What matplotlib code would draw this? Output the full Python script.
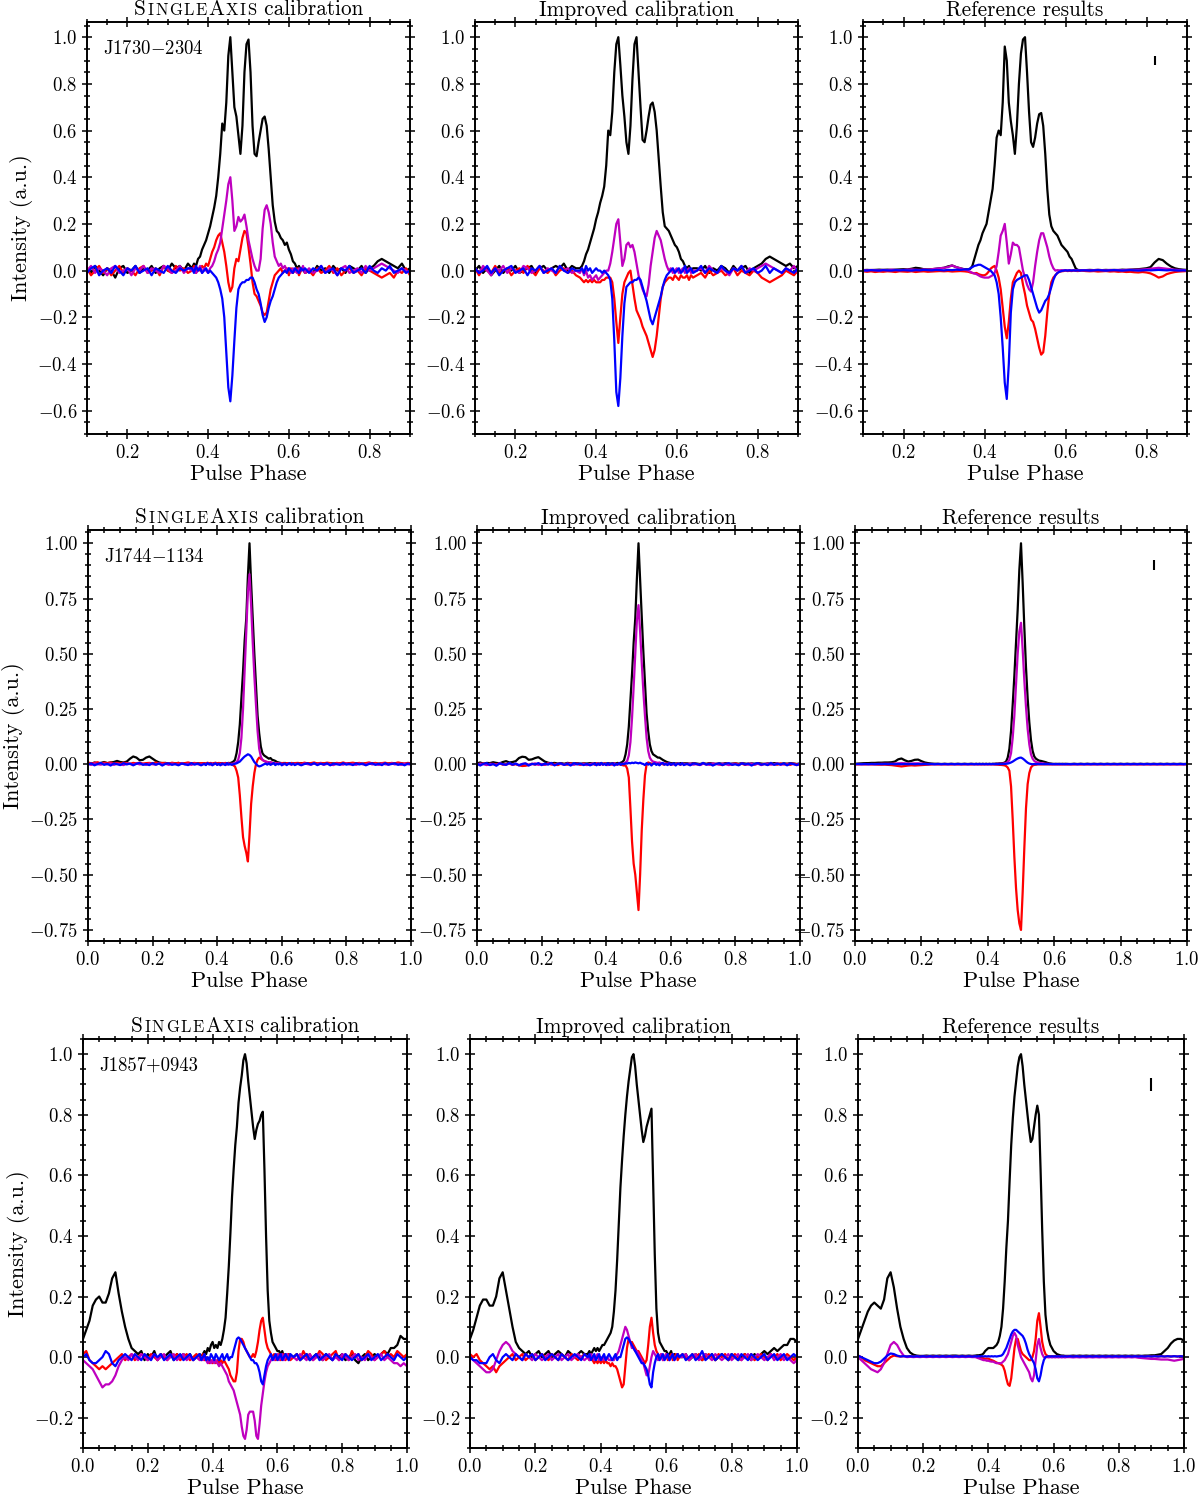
import numpy as np
import matplotlib.pyplot as plt
from matplotlib.ticker import MultipleLocator
from matplotlib.offsetbox import TextArea, HPacker, AnchoredOffsetbox

plt.rcParams['font.family'] = 'serif'
plt.rcParams['font.serif'] = ['cmr10']
plt.rcParams['mathtext.fontset'] = 'cm'
plt.rcParams['axes.formatter.use_mathtext'] = True

# pulse phase grids (coarse off-pulse, finer across the pulse)
phase_j1730 = np.round(np.concatenate([np.arange(0.10, 0.355, 0.01),
                                       np.arange(0.36, 0.6425, 0.005),
                                       np.arange(0.65, 0.905, 0.01)]), 3)
phase_full = np.round(np.concatenate([np.arange(0.0, 0.355, 0.01),
                                      np.arange(0.36, 0.6425, 0.005),
                                      np.arange(0.65, 1.005, 0.01)]), 3)

pulsars = ['J1730$-$2304', 'J1744$-$1134', 'J1857+0943']
titles = ['SingleAxis calibration', 'Improved calibration', 'Reference results']

# ---------------- J1730-2304 ----------------
j1730_sa_I = [
    .01, -.01, .02, .00, -.02, .01, .00, -.03, .01, .02,
    -.01, .00, .02, -.01, .01, .00, .02, -.01, .01, .02,
    .00, .03, .01, .02, .00, .03,
    .01, .03, .02, .05, .06, .09, .11, .13, .16, .19,
    .23, .27, .32, .40, .50, .63, .60, .72, .92, 1.0,
    .85, .70, .66, .58, .50, .62, .85, .97, .99, .85,
    .62, .50, .49, .55, .60, .65, .66, .62, .52, .40,
    .28, .21, .17, .16, .14, .13, .11, .12, .09, .07,
    .04, .03, .01, .02, .00, .01, -.01,
    .00, -.01, .02, .00, .01, -.01, .02, .00, .01, -.01,
    .02, .01, .00, .02, -.01, .01, .02, .04, .05, .04,
    .03, .02, .01, .03, .00, .01,
]
j1730_sa_Q = [
    .01, -.02, .00, .02, -.01, .01, -.02, .00, .02, -.01,
    .01, .00, -.02, .01, .02, -.01, .00, .01, -.02, .02,
    .00, -.01, .02, .00, .01, -.01,
    .00, .02, -.01, .01, .00, .02, .01, .03, .02, .05,
    .08, .10, .13, .15, .16, .12, .08, .02, -.05, -.09,
    -.07, .01, .05, .04, .09, .14, .17, .16, .10, .03,
    -.05, -.10, -.11, -.13, -.15, -.18, -.19, -.18, -.13, -.08,
    -.05, -.02, -.01, .00, .01, -.01, .00, .01, -.02, .01,
    -.01, .00, .01, -.02, .00, .01, -.01,
    .00, -.02, .01, -.01, .00, .02, -.01, .01, -.02, .00,
    .01, -.01, .00, -.02, .01, .00, -.01, -.02, -.03, -.02,
    -.01, -.03, .00, -.01, .01, -.02,
]
j1730_sa_U = [
    .00, .02, -.01, .01, .00, -.02, .01, .02, -.01, .00,
    .01, -.02, .01, .00, .02, -.01, .01, .00, -.01, .02,
    .01, -.01, .00, .02, -.01, .01,
    .00, .01, -.01, .00, .02, -.01, .01, .00, -.01, .01,
    .02, .04, .07, .09, .12, .18, .24, .30, .37, .40,
    .30, .17, .19, .23, .21, .22, .24, .19, .13, .09,
    .05, .02, .00, .00, .05, .18, .26, .28, .25, .20,
    .12, .06, .04, .02, .03, .01, .02, .00, .01, -.01,
    .01, .00, -.01, .01, .00, .02, -.01,
    .01, -.01, .00, .02, -.01, .01, .00, -.02, .01, .02,
    -.01, .00, .01, -.01, .02, .00, .01, .02, .03, .02,
    .01, .00, -.01, .01, .00, -.01,
]
j1730_sa_V = [
    -.01, .01, .02, -.02, .00, .01, -.01, .02, .00, -.02,
    .01, .00, .02, -.01, .00, .01, -.02, .01, .00, -.01,
    .02, .00, -.01, .01, .00, .01,
    .01, -.01, .02, .00, .01, -.01, .00, .01, -.01, .00,
    -.01, -.02, -.03, -.05, -.08, -.12, -.20, -.35, -.50, -.56,
    -.45, -.30, -.16, -.08, -.06, -.05, -.05, -.04, -.04, -.03,
    -.03, -.05, -.08, -.10, -.14, -.19, -.22, -.20, -.16, -.13,
    -.11, -.08, -.05, -.03, -.02, -.01, .00, -.01, .01, .00,
    -.01, .01, .00, -.01, .01, .00, .01,
    -.01, .01, .00, .02, -.01, .00, .01, -.02, .01, .00,
    .02, -.01, .00, .01, -.01, .02, .00, -.01, .01, .00,
    .02, -.01, .00, .01, -.01, .00,
]
j1730_ic_I = [
    .00, .02, -.01, .01, -.02, .00, .02, -.01, .01, .00,
    .02, -.01, .00, .01, .02, -.01, .01, .02, .00, .01,
    .02, .01, .03, .00, .02, .01,
    .01, .02, .04, .07, .09, .12, .15, .18, .22, .25,
    .29, .32, .36, .45, .60, .58, .68, .85, .97, 1.0,
    .88, .75, .66, .55, .50, .62, .82, .97, 1.0, .85,
    .70, .56, .55, .60, .66, .71, .72, .68, .60, .48,
    .36, .25, .19, .18, .17, .15, .13, .11, .10, .08,
    .05, .04, .02, .01, .02, .00, .01,
    .01, .00, .02, -.01, .01, .00, .02, .01, -.01, .02,
    .00, .01, .02, -.01, .01, .02, .03, .05, .06, .05,
    .04, .03, .02, .03, .01, .02,
]
j1730_ic_Q = [
    .01, -.02, .01, .00, -.01, .02, -.01, .00, .01, -.02,
    .00, .01, -.01, .02, .00, -.02, .01, .00, -.01, .01,
    -.02, .00, .01, -.01, .00, -.02,
    -.03, -.04, -.05, -.04, -.05, -.04, -.05, -.04, -.05, -.05,
    -.05, -.04, -.04, -.03, -.03, -.03, -.05, -.12, -.22, -.31,
    -.20, -.10, -.05, -.03, -.01, .00, -.06, -.12, -.17, -.19,
    -.21, -.24, -.26, -.28, -.31, -.34, -.37, -.34, -.28, -.20,
    -.12, -.07, -.05, -.04, -.03, -.03, -.04, -.02, -.03, -.04,
    -.02, -.03, -.03, -.02, -.04, -.02, -.03,
    -.02, -.01, -.03, .00, -.02, -.01, .00, -.02, -.01, .01,
    -.02, .00, -.01, -.02, .00, -.01, -.03, -.04, -.05, -.04,
    -.03, -.02, .00, -.01, -.02, .00,
]
j1730_ic_U = [
    .01, -.01, .02, .00, -.02, .01, .00, .02, -.01, .01,
    .00, -.01, .02, .01, -.01, .00, .02, -.01, .01, .00,
    -.01, .02, .00, .01, -.01, .00,
    -.01, .01, -.02, .00, -.03, -.02, -.04, -.03, -.02, -.04,
    -.03, -.02, -.01, .00, .00, .03, .08, .14, .20, .22,
    .12, .02, .05, .11, .12, .10, .11, .08, .03, -.02,
    -.05, -.08, -.10, -.11, -.06, .02, .08, .14, .17, .15,
    .13, .09, .05, .02, .00, .01, -.01, .00, .01, -.01,
    .00, .01, -.01, .00, .01, -.01, .00,
    .00, .01, -.01, .02, .00, -.01, .01, .00, -.02, .01,
    .00, .02, -.01, .01, .00, .01, .02, .03, .02, .01,
    .00, -.01, .01, .00, .02, -.01,
]
j1730_ic_V = [
    .01, -.01, .00, .02, -.01, .01, -.02, .00, .01, .02,
    -.01, .00, .01, -.02, .01, .00, .02, -.01, .00, .01,
    -.01, .02, .00, -.01, .01, .00,
    .00, .01, -.01, .02, .00, .01, -.01, .00, .01, .00,
    .00, -.01, .00, -.01, -.02, -.04, -.12, -.30, -.52, -.58,
    -.46, -.28, -.14, -.07, -.06, -.05, -.05, -.04, -.04, -.03,
    -.04, -.07, -.10, -.13, -.17, -.21, -.23, -.20, -.17, -.14,
    -.11, -.07, -.04, -.02, -.01, .00, .01, -.01, .00, .01,
    -.01, .00, .02, -.01, .00, .01, -.01,
    .00, .02, -.01, .01, .00, -.01, .02, .00, -.01, .01,
    .00, .02, -.01, .00, .01, -.01, .00, .02, -.01, .01,
    .00, -.01, .01, .00, -.01, .01,
]
j1730_ref_I = [
    .002, .003, .002, .003, .004, .003, .004, .003, .004, .005,
    .006, .005, .008, .012, .010, .006, .005, .006, .008, .010,
    .012, .018, .022, .015, .010, .006,
    .005, .008, .02, .05, .08, .11, .13, .16, .18, .20,
    .25, .30, .35, .45, .57, .60, .58, .72, .96, .90,
    .72, .64, .58, .50, .62, .80, .93, .99, 1.0, .85,
    .68, .55, .53, .57, .63, .67, .675, .62, .50, .35,
    .24, .19, .17, .16, .15, .13, .11, .10, .09, .08,
    .06, .05, .03, .01, .003, .002, .002,
    .002, .003, .002, .003, .002, .003, .002, .003, .002, .004,
    .003, .004, .005, .006, .008, .010, .015, .035, .050, .045,
    .030, .018, .010, .006, .004, .003,
]
j1730_ref_Q = [
    -.003, -.005, -.003, -.006, -.004, -.005, -.003, -.004, -.006, -.003,
    -.004, -.005, -.003, -.006, -.004, -.003, -.005, -.004, -.003, -.002,
    -.003, -.002, -.004, -.003, -.002, -.003,
    -.005, -.008, -.010, -.012, -.010, -.015, -.018, -.020, -.020, -.015,
    -.005, .008, .015, .020, .000, -.03, -.08, -.16, -.24, -.29,
    -.22, -.12, -.05, -.03, -.01, .00, -.01, -.06, -.10, -.15,
    -.18, -.21, -.22, -.25, -.29, -.33, -.36, -.35, -.28, -.18,
    -.10, -.05, -.03, -.02, -.01, -.005, -.003, -.002, .000, -.002,
    -.001, -.002, .000, -.001, -.002, -.001, .000,
    -.002, -.003, -.002, -.004, -.003, -.002, -.004, -.003, -.005, -.004,
    -.006, -.005, -.007, -.008, -.006, -.008, -.012, -.020, -.030, -.025,
    -.015, -.010, -.006, -.004, -.003, -.002,
]
j1730_ref_U = [
    .002, .001, .003, .002, .001, .003, .002, .004, .003, .002,
    .003, .004, .005, .004, .003, .005, .004, .006, .008, .010,
    .012, .015, .022, .015, .010, .005,
    .000, -.005, -.010, -.012, -.015, -.020, -.025, -.028, -.030, -.030,
    -.030, -.025, -.020, -.010, .02, .08, .15, .17, .20, .12,
    .03, .07, .12, .11, .11, .10, .05, .00, -.03, -.06,
    -.08, -.09, -.05, .02, .08, .13, .16, .16, .13, .10,
    .06, .03, .01, .000, .002, .001, .002, .001, .002, .001,
    .002, .001, .002, .001, .002, .001, .002,
    .002, .001, .002, .003, .002, .001, .003, .002, .003, .002,
    .003, .004, .003, .004, .005, .006, .008, .010, .012, .010,
    .008, .006, .004, .003, .002, .002,
]
j1730_ref_V = [
    .001, .000, .002, .001, .000, .002, .001, .000, .002, .001,
    .002, .001, .000, .002, .001, .003, .002, .001, .003, .002,
    .001, .003, .002, .004, .003, .005,
    .005, .010, .015, .020, .022, .025, .025, .020, .015, .010,
    .005, .000, -.010, -.020, -.05, -.10, -.20, -.33, -.48, -.55,
    -.40, -.18, -.08, -.05, -.04, -.035, -.03, -.025, -.02, -.02,
    -.04, -.07, -.10, -.13, -.16, -.18, -.17, -.15, -.13, -.12,
    -.10, -.07, -.04, -.02, -.01, -.005, -.002, .000, .001, .000,
    .001, .000, .001, .000, .001, .000, .001,
    .001, .000, .001, .002, .001, .000, .001, .002, .001, .000,
    .001, .002, .001, .000, .001, .002, .001, .002, .003, .002,
    .001, .002, .001, .000, .001, .000,
]

# ---------------- J1744-1134 ----------------
j1744_sa_I = [
    .005, .000, .008, .004, .006, .010, .005, .008, .010, .015,
    .010, .008, .012, .025, .035, .030, .018, .020, .030, .035,
    .025, .015, .008, .005, .006, .002, .005, .003, .006, .002,
    .004, .001, .005, .002, .004, .003,
    .004, .002, .005, .003, .004, .002, .005, .003, .004, .002,
    .005, .004, .003, .005, .004, .006, .005, .008, .012, .020,
    .05, .10, .18, .30, .42, .56, .66, .85, 1.0, .82,
    .66, .50, .36, .22, .14, .08, .05, .04, .035, .03,
    .025, .028, .020, .018, .015, .010, .008, .006, .005, .004,
    .006, .003, .005, .002, .004, .003, .005,
    .003, .005, .002, .004, .001, .005, .003, .002, .004, .001,
    .005, .003, .002, .004, .001, .003, .005, .002, .004, .003,
    .001, .004, .002, .005, .003, .002, .004, .001, .003, .005,
    .002, .004, .003, .001, .004, .002,
]
j1744_sa_Q = [
    .008, .004, .006, .009, .003, .007, .005, .008, .004, .006,
    .003, .007, .005, .002, .006, .004, .007, .003, .005, .006,
    .004, .008, .003, .006, .005, .002, .007, .004, .006, .003,
    .005, .008, .004, .006, .003, .005,
    .005, .003, .007, .004, .006, .002, .005, .007, .003, .006,
    .004, .005, .003, .006, .004, .002, .003, .000, -.005, -.010,
    -.03, -.06, -.14, -.24, -.33, -.37, -.40, -.44, -.32, -.18,
    -.10, -.04, .00, .02, .03, .025, .02, .015, .012, .010,
    .008, .006, .007, .005, .004, .006, .003, .005, .004, .006,
    .003, .005, .004, .002, .006, .004, .005,
    .006, .003, .007, .004, .005, .008, .003, .006, .004, .007,
    .005, .002, .006, .004, .008, .003, .005, .007, .004, .006,
    .003, .005, .008, .004, .006, .002, .005, .007, .003, .006,
    .004, .008, .005, .003, .006, .004,
]
j1744_sa_U = [
    .002, -.003, .004, .000, -.002, .003, -.001, .004, -.003, .002,
    .000, -.004, .003, .001, -.002, .004, -.001, .002, -.003, .003,
    .000, -.002, .004, -.001, .002, -.003, .003, .000, -.002, .004,
    -.001, .002, -.003, .003, .000, -.002,
    .002, -.003, .004, .000, -.002, .003, -.001, .004, -.003, .002,
    .000, -.002, .003, .001, -.002, .004, .000, .002, .003, .005,
    .01, .02, .05, .12, .25, .42, .60, .78, .86, .72,
    .55, .40, .27, .15, .07, .035, .02, .015, .012, .010,
    .008, .010, .006, .004, .005, .002, .004, .001, .003, -.002,
    .002, -.001, .003, .000, -.002, .002, .001,
    .001, -.003, .004, .000, -.002, .003, -.001, .004, -.003, .002,
    .000, -.004, .003, .001, -.002, .004, -.001, .002, -.003, .003,
    .000, -.002, .004, -.001, .002, -.003, .003, .000, -.002, .004,
    -.001, .002, -.003, .003, .000, -.002,
]
j1744_sa_V = [
    -.002, .004, -.005, .001, .006, -.003, .002, -.006, .004, .000,
    -.004, .005, -.001, .003, -.005, .002, .006, -.003, .001, -.004,
    .005, -.002, .003, -.006, .002, .004, -.003, .001, -.005, .003,
    .000, -.004, .005, -.002, .003, -.005,
    .002, -.004, .005, -.001, .003, -.005, .001, .004, -.003, .002,
    -.005, .003, .000, -.004, .005, -.002, .001, -.003, .000, .002,
    .004, .008, .012, .020, .028, .035, .040, .045, .042, .035,
    .022, .010, .002, -.006, -.010, -.008, -.004, .000, .003, -.002,
    .004, -.003, .001, .005, -.004, .002, -.001, .004, -.005, .002,
    .003, -.004, .001, .005, -.002, .003, -.004,
    .003, -.005, .001, .004, -.002, .005, -.004, .002, -.001, .004,
    -.005, .003, .000, -.003, .005, -.002, .002, -.004, .004, -.001,
    .003, -.005, .001, .004, -.003, .002, -.004, .005, -.002, .001,
    .004, -.003, .002, -.005, .003, .000,
]
j1744_ic_I = [
    .004, .008, .002, .006, .005, .009, .006, .004, .010, .014,
    .008, .010, .014, .028, .034, .032, .020, .022, .028, .032,
    .022, .012, .007, .004, .006, .003, .005, .002, .006, .004,
    .003, .005, .002, .004, .003, .005,
    .003, .005, .002, .004, .003, .005, .002, .004, .003, .005,
    .004, .003, .005, .004, .003, .006, .004, .007, .010, .018,
    .045, .09, .17, .29, .41, .55, .66, .84, 1.0, .83,
    .67, .51, .37, .23, .15, .09, .06, .045, .04, .035,
    .03, .03, .025, .02, .016, .012, .009, .007, .005, .004,
    .005, .003, .004, .002, .005, .003, .004,
    .004, .002, .005, .003, .001, .004, .002, .005, .003, .001,
    .004, .002, .005, .001, .003, .004, .002, .005, .003, .001,
    .004, .002, .005, .003, .001, .004, .002, .005, .003, .001,
    .004, .002, .005, .003, .001, .004,
]
j1744_ic_Q = [
    .003, -.002, .004, .000, -.003, .002, -.001, .004, -.002, .001,
    .003, -.003, .000, -.005, -.008, -.007, -.004, .002, -.002, .003,
    .000, -.003, .004, -.001, .002, -.004, .003, .000, -.002, .004,
    -.001, .002, -.003, .003, .000, -.002,
    .002, -.003, .004, .000, -.002, .003, -.001, .004, -.003, .002,
    .000, -.002, .003, .001, -.002, .002, .000, -.002, -.004, -.006,
    -.005, -.02, -.06, -.20, -.35, -.45, -.50, -.58, -.66, -.50,
    -.30, -.16, -.05, .00, .008, .005, .003, .002, .004, .001,
    .003, -.002, .004, .000, -.002, .003, -.001, .004, -.003, .002,
    .000, -.002, .003, .001, -.002, .004, .000,
    .002, -.003, .004, .000, -.002, .003, -.001, .004, -.003, .002,
    .000, -.004, .003, .001, -.002, .004, -.001, .002, -.003, .003,
    .000, -.002, .004, -.001, .002, -.003, .003, .000, -.002, .004,
    -.001, .002, -.003, .003, .000, -.002,
]
j1744_ic_U = [
    -.002, .003, .000, -.004, .002, .001, -.003, .004, .000, -.002,
    .003, -.001, .002, -.004, .001, .003, -.002, .000, .004, -.003,
    .001, -.002, .003, .000, -.004, .002, .001, -.003, .004, .000,
    -.002, .003, -.001, .002, -.004, .001,
    .003, -.002, .000, .004, -.003, .001, -.002, .003, .000, -.004,
    .002, .001, -.003, .004, .000, -.002, .003, .001, .002, .004,
    .008, .015, .04, .10, .21, .35, .50, .65, .72, .60,
    .46, .33, .22, .12, .06, .03, .018, .012, .010, .008,
    .006, .008, .005, .003, .004, .001, .003, .000, .002, -.002,
    .001, -.001, .003, .000, -.002, .002, .001,
    .000, .003, -.002, .001, -.004, .002, .000, -.003, .004, .001,
    -.002, .003, .000, -.004, .002, .001, -.003, .004, .000, -.002,
    .003, -.001, .002, -.004, .001, .003, -.002, .000, .004, -.003,
    .001, -.002, .003, .000, -.004, .002,
]
j1744_ic_V = [
    .003, -.006, .002, .005, -.004, .001, -.007, .004, .000, -.003,
    .006, -.002, .003, -.005, .001, .004, -.006, .002, -.001, .005,
    -.004, .003, -.002, .006, -.005, .001, .004, -.003, .002, -.006,
    .005, -.001, .003, -.004, .002, -.005,
    .001, .004, -.005, .002, -.003, .006, -.002, .001, -.004, .005,
    -.003, .002, .004, -.006, .001, -.002, .005, -.003, .002, .000,
    .004, .003, .006, .004, .007, .005, .008, .006, .004, .007,
    .003, .001, -.004, .005, -.002, .003, -.006, .002, .004, -.003,
    .001, -.005, .003, .006, -.002, .001, -.004, .005, -.003, .002,
    .004, -.006, .001, .003, -.002, .005, -.004,
    .002, -.005, .004, .001, -.003, .006, -.002, .003, -.006, .001,
    .004, -.004, .002, .005, -.003, .000, -.005, .004, -.001, .003,
    -.006, .002, .005, -.002, .001, -.004, .006, -.003, .002, -.001,
    .004, -.005, .003, .001, -.004, .002,
]
j1744_ref_I = [
    .002, .003, .004, .005, .005, .006, .006, .007, .007, .008,
    .008, .009, .012, .022, .026, .018, .012, .015, .020, .021,
    .014, .008, .005, .003, .002, .002, .001, .002, .001, .002,
    .001, .002, .001, .002, .001, .002,
    .001, .002, .001, .002, .001, .002, .001, .002, .001, .002,
    .001, .002, .002, .003, .003, .004, .004, .005, .007, .012,
    .03, .07, .15, .27, .40, .55, .70, .88, 1.0, .82,
    .62, .44, .30, .19, .11, .06, .035, .025, .020, .016,
    .015, .013, .011, .009, .006, .004, .003, .002, .001, .002,
    .001, .002, .001, .002, .001, .002, .001,
    .001, .002, .001, .002, .001, .002, .001, .002, .001, .002,
    .001, .002, .001, .002, .001, .002, .001, .002, .001, .002,
    .001, .002, .001, .002, .001, .002, .001, .002, .001, .002,
    .001, .002, .001, .002, .001, .002,
]
j1744_ref_Q = [
    .000, -.001, .000, -.001, .000, -.001, -.001, -.002, -.002, -.002,
    -.003, -.004, -.006, -.008, -.010, -.008, -.006, -.005, -.006, -.005,
    -.004, -.003, -.002, -.001, .000, -.001, .000, -.001, .000, -.001,
    .000, -.001, .000, -.001, .000, -.001,
    .000, -.001, .000, -.001, .000, -.001, .000, -.001, .000, -.001,
    .000, -.001, -.001, -.002, -.002, -.003, -.003, -.004, -.005, -.008,
    -.015, -.03, -.10, -.25, -.42, -.56, -.66, -.72, -.75, -.58,
    -.38, -.20, -.09, -.04, -.015, -.006, -.003, -.002, -.001, .000,
    -.001, .000, -.001, .000, -.001, .000, -.001, .000, -.001, .000,
    -.001, .000, -.001, .000, -.001, .000, -.001,
    .000, -.001, .000, -.001, .000, -.001, .000, -.001, .000, -.001,
    .000, -.001, .000, -.001, .000, -.001, .000, -.001, .000, -.001,
    .000, -.001, .000, -.001, .000, -.001, .000, -.001, .000, -.001,
    .000, -.001, .000, -.001, .000, -.001,
]
j1744_ref_U = [
    .000, .001, .000, .001, .000, .001, .001, .001, .002, .002,
    .002, .002, .003, .004, .005, .004, .003, .003, .004, .004,
    .003, .002, .001, .001, .000, .001, .000, .001, .000, .001,
    .000, .001, .000, .001, .000, .001,
    .000, .001, .000, .001, .000, .001, .000, .001, .000, .001,
    .000, .001, .001, .001, .002, .002, .002, .003, .004, .006,
    .010, .02, .05, .12, .22, .36, .50, .60, .64, .52,
    .38, .26, .16, .09, .045, .025, .015, .010, .008, .006,
    .005, .004, .003, .002, .002, .001, .001, .000, .001, .000,
    .001, .000, .001, .000, .001, .000, .001,
    .000, .001, .000, .001, .000, .001, .000, .001, .000, .001,
    .000, .001, .000, .001, .000, .001, .000, .001, .000, .001,
    .000, .001, .000, .001, .000, .001, .000, .001, .000, .001,
    .000, .001, .000, .001, .000, .001,
]
j1744_ref_V = [
    .000, .001, .000, .001, .000, .001, .000, .001, .000, .001,
    .000, .001, .000, .001, .000, .001, .000, .001, .000, .001,
    .000, .001, .000, .001, .000, .001, .000, .001, .000, .001,
    .000, .001, .000, .001, .000, .001,
    .000, .001, .000, .001, .000, .001, .000, .001, .000, .001,
    .000, .001, .000, .001, .000, .001, .000, .001, .001, .002,
    .003, .005, .008, .012, .017, .022, .026, .029, .030, .026,
    .020, .013, .007, .003, .001, .000, .001, .000, .001, .000,
    .001, .000, .001, .000, .001, .000, .001, .000, .001, .000,
    .001, .000, .001, .000, .001, .000, .001,
    .000, .001, .000, .001, .000, .001, .000, .001, .000, .001,
    .000, .001, .000, .001, .000, .001, .000, .001, .000, .001,
    .000, .001, .000, .001, .000, .001, .000, .001, .000, .001,
    .000, .001, .000, .001, .000, .001,
]

# ---------------- J1857+0943 ----------------
j1857_sa_I = [
    .06, .09, .12, .17, .19, .20, .18, .18, .21, .26,
    .28, .21, .15, .10, .06, .03, .02, .01, .02, -.01,
    .01, .00, .02, -.01, .01, .00, .01, .02, -.01, .01,
    .00, .01, .00, .01, -.01, .00,
    .01, .00, .01, .02, .01, .03, .02, .04, .05, .03,
    .04, .03, .05, .04, .06, .09, .13, .21, .30, .41,
    .53, .62, .70, .76, .84, .89, .93, .98, 1.0, .97,
    .91, .86, .81, .76, .72, .75, .77, .78, .80, .81,
    .62, .40, .22, .12, .08, .05, .04, .03, .02, .02,
    .01, .02, .00, .01, .00, .01, .00,
    .00, .01, -.01, .00, .01, -.01, .00, .01, .00, -.01,
    .01, .00, -.01, .01, .00, .01, -.01, .00, .01, -.01,
    -.02, .00, .01, -.01, .00, .01, .00, .01, .02, .01,
    .03, .03, .04, .07, .06, .06,
]
j1857_sa_Q = [
    .01, .02, -.01, -.02, -.03, -.04, -.03, -.04, -.03, -.02,
    -.01, .00, .01, -.01, .00, .01, -.01, .00, .01, .00,
    -.01, .01, .00, -.01, .01, .00, -.01, .01, .00, .01,
    -.01, .00, .01, -.01, .00, .01,
    .00, -.01, .01, -.01, .00, -.01, -.02, -.01, -.02, -.01,
    -.02, -.01, -.02, -.01, -.02, -.01, -.02, -.03, -.04, -.06,
    -.07, -.08, -.08, -.05, .02, .06, .06, .05, .03, .02,
    .01, .00, .00, .01, .00, .02, .05, .09, .12, .13,
    .09, .05, .03, .02, .01, .00, .01, -.01, .00, .01,
    -.01, .00, .01, -.01, .00, .01, -.01,
    .00, .01, -.01, .02, .00, .01, -.01, .00, .02, .01,
    -.01, .00, .01, .02, -.01, .00, .01, -.01, .02, .00,
    .01, -.01, .00, .02, .01, -.01, .00, .01, .02, .00,
    .01, .00, .02, .01, .00, .01,
]
j1857_sa_U = [
    -.01, -.02, -.03, -.04, -.06, -.08, -.10, -.09, -.09, -.08,
    -.06, -.03, -.01, .00, -.01, .01, .00, -.01, .01, .00,
    -.01, .00, .01, -.01, .00, .01, -.01, .00, .01, -.01,
    .00, .01, -.01, .00, -.01, .00,
    -.01, .00, -.01, .00, -.01, -.02, -.01, -.02, -.01, -.02,
    -.01, -.02, -.03, -.02, -.03, -.04, -.05, -.06, -.08, -.09,
    -.10, -.11, -.13, -.15, -.17, -.19, -.23, -.26, -.27, -.24,
    -.19, -.18, -.18, -.18, -.21, -.26, -.27, -.22, -.16, -.12,
    -.08, -.05, -.03, -.02, -.01, .00, -.01, .00, .01, -.01,
    .00, .01, -.01, .00, .01, -.01, .00,
    .00, -.01, .01, .00, -.01, .01, -.01, .00, .01, -.01,
    .00, .01, -.01, .00, -.01, .01, .00, -.01, .00, .01,
    -.01, .00, -.01, .01, .00, -.01, .00, .01, -.01, .00,
    -.01, -.02, -.02, -.03, -.02, -.03,
]
j1857_sa_V = [
    .00, .01, -.01, -.02, -.02, -.01, .00, .02, .01, -.02,
    -.03, -.01, .00, .01, .00, -.01, .01, .00, -.01, .01,
    .00, -.01, .01, .00, .01, -.01, .00, .01, -.01, .00,
    .01, -.01, .00, .01, -.01, .00,
    .01, -.01, .00, .01, -.01, .00, -.01, .01, .00, -.01,
    .01, .00, -.01, .00, .01, -.01, .00, .01, -.01, .00,
    .00, .02, .04, .06, .065, .06, .05, .04, .03, .02,
    .01, .00, -.01, -.01, -.02, -.02, -.03, -.05, -.08, -.09,
    -.06, -.03, -.01, .00, .01, -.01, .00, .01, -.01, .00,
    .01, -.01, .00, .01, .00, -.01, .01,
    .00, .01, -.01, .00, .01, -.01, .00, .01, -.01, .00,
    .01, .00, -.01, .01, .00, -.01, .01, .00, -.01, .00,
    .01, -.01, .00, .01, -.01, .00, .01, -.01, .00, .01,
    .00, -.01, .01, .00, -.01, .00,
]
j1857_ic_I = [
    .06, .09, .13, .17, .19, .19, .17, .17, .20, .26,
    .28, .22, .16, .10, .05, .03, .02, .01, .02, .00,
    .01, .02, .00, .01, .02, .00, .01, .02, .01, .00,
    .02, .01, .00, .01, .02, .01,
    .01, .02, .01, .02, .03, .02, .03, .02, .03, .04,
    .04, .05, .06, .07, .08, .10, .15, .22, .32, .44,
    .56, .65, .73, .80, .86, .91, .95, .99, 1.0, .96,
    .90, .85, .80, .75, .71, .73, .76, .78, .80, .82,
    .58, .34, .16, .08, .05, .04, .03, .02, .02, .01,
    .01, .02, .00, .01, .00, .01, .00,
    .00, .01, -.01, .00, .01, .00, -.01, .01, .00, .01,
    -.01, .00, .01, .00, -.01, .01, .00, -.01, .00, .01,
    .00, -.01, .01, .00, .01, .02, .01, .02, .03, .02,
    .03, .04, .04, .06, .06, .05,
]
j1857_ic_Q = [
    .01, .00, .01, -.01, -.02, -.03, -.04, -.03, -.05, -.03,
    -.02, -.01, .00, .01, -.01, .00, .01, -.01, .00, .01,
    -.01, .00, .01, .00, -.01, .01, .00, -.01, .01, .00,
    -.01, .01, .00, -.01, .00, .01,
    .00, -.01, .00, -.01, -.02, -.01, -.02, -.01, -.02, -.01,
    -.02, -.01, -.02, -.02, -.03, -.02, -.03, -.03, -.04, -.06,
    -.08, -.10, -.09, -.03, .03, .06, .05, .05, .04, .03,
    .02, .02, .01, .00, -.01, -.02, -.01, .04, .10, .13,
    .08, .04, .02, .01, .00, .01, -.01, .00, .01, -.01,
    .00, .01, -.01, .00, .01, -.01, .00,
    .01, .00, -.01, .01, .00, .01, -.01, .00, .01, .00,
    -.01, .01, .00, .01, -.01, .00, .01, .00, -.01, .01,
    .00, .01, -.01, .00, .01, .00, -.01, .01, .00, .01,
    -.01, .00, .01, .00, -.01, .00,
]
j1857_ic_U = [
    .00, -.01, -.02, -.03, -.04, -.05, -.05, -.04, -.01, .02,
    .04, .05, .04, .02, .01, .00, -.01, .01, .00, -.01,
    .01, .00, -.01, .00, .01, -.01, .00, .01, -.01, .00,
    .01, -.01, .00, .01, .00, -.01,
    .00, -.01, .01, .00, -.01, .00, .01, -.01, .00, -.01,
    .00, -.01, .00, -.01, -.01, -.01, -.01, .00, .01, .02,
    .04, .06, .08, .10, .09, .07, .05, .03, .03, .02,
    .02, .01, .00, -.01, -.02, -.04, -.06, -.06, -.03, .00,
    .02, .01, .00, -.01, .00, .01, -.01, .00, .01, .00,
    -.01, .00, .01, -.01, .00, .01, .00,
    .00, .01, -.01, .00, .01, -.01, .00, .01, .00, -.01,
    .01, .00, -.01, .00, .01, -.01, .00, .01, -.01, .00,
    .01, -.01, .00, .01, .00, -.01, .00, .01, -.01, .00,
    .01, -.01, .00, -.01, -.02, -.01,
]
j1857_ic_V = [
    .00, -.01, -.01, -.02, -.02, -.02, .00, .01, -.01, -.02,
    .00, .01, .00, -.01, .01, .00, -.01, .01, .00, .01,
    -.01, .00, .01, -.01, .00, .01, .00, -.01, .01, .00,
    -.01, .00, .01, .00, -.01, .01,
    .00, .01, -.01, .00, .01, -.01, .00, .01, -.01, .00,
    .01, -.01, .00, .01, .00, -.01, .00, .01, -.01, .00,
    .00, .02, .04, .06, .065, .06, .05, .04, .03, .02,
    .01, .00, -.01, -.02, -.02, -.03, -.04, -.06, -.09, -.10,
    -.05, -.02, .00, .01, -.01, .00, .01, -.01, .00, .01,
    -.01, .00, .01, -.01, .00, .01, .00,
    .01, -.01, .00, .01, -.01, .00, .02, -.01, .00, .01,
    -.01, .00, .01, .00, -.01, .01, .00, -.01, .01, .00,
    -.01, .01, .00, -.01, .00, .01, -.01, .00, .01, -.01,
    .00, .01, -.01, .00, .01, .00,
]
j1857_ref_I = [
    .06, .09, .12, .15, .17, .18, .17, .16, .19, .26,
    .28, .23, .16, .10, .06, .03, .015, .008, .005, .004,
    .004, .005, .004, .005, .004, .005, .004, .005, .004, .005,
    .005, .004, .005, .004, .005, .004,
    .005, .006, .006, .007, .008, .012, .020, .025, .030, .030,
    .030, .030, .035, .040, .050, .070, .10, .16, .25, .36,
    .45, .58, .70, .79, .86, .91, .96, .99, 1.0, .96,
    .90, .85, .80, .75, .71, .72, .76, .80, .83, .80,
    .62, .42, .25, .14, .09, .06, .04, .03, .02, .015,
    .010, .008, .006, .005, .005, .004, .004,
    .004, .005, .004, .005, .004, .005, .004, .005, .004, .005,
    .004, .005, .004, .005, .004, .005, .004, .005, .004, .005,
    .004, .005, .004, .005, .005, .006, .006, .008, .010, .020,
    .030, .045, .055, .060, .060, .055,
]
j1857_ref_Q = [
    .005, .000, -.010, -.015, -.020, -.025, -.030, -.030, -.020, -.010,
    .000, .005, .003, .002, .003, .002, .003, .002, .003, .002,
    .002, .003, .002, .003, .002, .003, .002, .003, .002, .003,
    .002, .003, .002, .003, .002, .003,
    .002, .001, .000, -.002, -.003, -.004, -.005, -.005, -.005, -.008,
    -.010, -.012, -.015, -.018, -.020, -.022, -.025, -.030, -.045, -.070,
    -.090, -.095, -.070, -.020, .030, .060, .060, .040, .020, .010,
    .005, .000, -.005, -.010, -.010, .000, .020, .060, .120, .145,
    .100, .050, .025, .010, .005, .002, .003, .002, .003, .002,
    .003, .002, .003, .002, .003, .002, .003,
    .003, .002, .003, .002, .003, .002, .003, .002, .003, .002,
    .003, .002, .003, .002, .003, .002, .003, .002, .003, .002,
    .003, .002, .003, .002, .003, .002, .003, .002, .003, .002,
    .003, .002, .003, .002, .003, .002,
]
j1857_ref_U = [
    .000, -.010, -.020, -.030, -.040, -.045, -.050, -.040, -.020, .010,
    .040, .050, .040, .020, .005, .000, .001, .000, .001, .000,
    .001, .000, .001, .000, .001, .000, .001, .000, .001, .000,
    .001, .000, .001, .000, .001, .000,
    .000, -.002, -.004, -.006, -.008, -.010, -.010, -.012, -.012, -.014,
    -.015, -.015, -.018, -.020, -.020, -.020, -.020, -.015, -.010, .000,
    .010, .030, .050, .070, .080, .070, .040, .020, .000, -.010,
    -.020, -.030, -.040, -.050, -.070, -.080, -.060, -.010, .040, .060,
    .030, .010, .000, -.001, .000, -.001, .000, -.001, .000, -.001,
    .000, -.001, .000, -.001, .000, -.001, .000,
    .000, -.001, .000, -.001, .000, -.001, .000, -.001, .000, -.001,
    .000, -.001, .000, -.001, .000, -.001, .000, -.001, .000, -.001,
    .000, -.002, -.003, -.004, -.005, -.006, -.006, -.007, -.008, -.008,
    -.008, -.010, -.012, -.010, -.008, -.006,
]
j1857_ref_V = [
    .005, .000, -.005, -.010, -.015, -.020, -.020, -.015, -.005, .005,
    .012, .010, .005, .002, .003, .002, .003, .002, .003, .002,
    .003, .002, .003, .002, .003, .002, .003, .002, .003, .002,
    .003, .002, .003, .002, .003, .002,
    .003, .002, .003, .002, .003, .002, .003, .002, .003, .002,
    .003, .002, .003, .002, .003, .004, .005, .010, .020, .030,
    .045, .060, .075, .085, .090, .090, .085, .080, .075, .070,
    .060, .045, .025, .010, .000, -.010, -.020, -.040, -.070, -.080,
    -.060, -.030, -.010, .000, .002, .003, .002, .003, .002, .003,
    .002, .003, .002, .003, .002, .003, .002,
    .003, .002, .003, .002, .003, .002, .003, .002, .003, .002,
    .003, .002, .003, .002, .003, .002, .003, .002, .003, .002,
    .003, .002, .003, .002, .003, .002, .003, .002, .003, .002,
    .003, .002, .003, .002, .003, .002,
]

# noise error bar shown in the reference column
errbar_phase = [0.82, 0.90, 0.90]
errbar_level = [0.90, 0.90, 0.90]
errbar_sigma = [0.021, 0.023, 0.020]

rows = [
    (phase_j1730, [[j1730_sa_I, j1730_sa_Q, j1730_sa_U, j1730_sa_V],
                   [j1730_ic_I, j1730_ic_Q, j1730_ic_U, j1730_ic_V],
                   [j1730_ref_I, j1730_ref_Q, j1730_ref_U, j1730_ref_V]]),
    (phase_full, [[j1744_sa_I, j1744_sa_Q, j1744_sa_U, j1744_sa_V],
                  [j1744_ic_I, j1744_ic_Q, j1744_ic_U, j1744_ic_V],
                  [j1744_ref_I, j1744_ref_Q, j1744_ref_U, j1744_ref_V]]),
    (phase_full, [[j1857_sa_I, j1857_sa_Q, j1857_sa_U, j1857_sa_V],
                  [j1857_ic_I, j1857_ic_Q, j1857_ic_U, j1857_ic_V],
                  [j1857_ref_I, j1857_ref_Q, j1857_ref_U, j1857_ref_V]]),
]
colors = ['k', 'r', 'm', 'b']

xlims = [(0.1, 0.9), (0.0, 1.0), (0.0, 1.0)]
ylims = [(-0.7, 1.065), (-0.8, 1.06), (-0.3, 1.05)]
ymajor = [0.2, 0.25, 0.2]

# panel frames in pixels: (left, top, right, bottom)
boxes = [
    [(87, 22, 410, 434), (475, 22, 798, 434), (863, 22, 1187, 434)],
    [(88, 530, 411, 941), (477, 530, 800, 941), (855, 530, 1187, 941)],
    [(83, 1039, 407, 1448), (470, 1039, 797, 1448), (858, 1039, 1184, 1448)],
]
W, H = 1200, 1498


def smallcaps_title(ax, big=15.3, small=12.0):
    # "SingleAxis" set in small capitals, followed by plain text
    letters = [('S', big), ('I', small), ('N', small), ('G', small), ('L', small),
               ('E', small), ('A', big), ('X', small), ('I', small), ('S', small)]
    word = HPacker(children=[TextArea(t, textprops=dict(fontsize=s)) for t, s in letters],
                   align='baseline', pad=0, sep=1.1)
    rest = TextArea(' calibration', textprops=dict(fontsize=big))
    pack = HPacker(children=[word, rest], align='baseline', pad=0, sep=0)
    box = AnchoredOffsetbox(loc='lower center', child=pack, pad=0, borderpad=0.22,
                            frameon=False, bbox_to_anchor=(0.5, 1.0),
                            bbox_transform=ax.transAxes)
    ax.add_artist(box)


fig = plt.figure(figsize=(W / 100, H / 100), dpi=100)

for r, (phase, panels) in enumerate(rows):
    for c, curves in enumerate(panels):
        x0, y0, x1, y1 = boxes[r][c]
        ax = fig.add_axes([x0 / W, 1 - y1 / H, (x1 - x0) / W, (y1 - y0) / H])
        for vals, col in zip(curves, colors):
            if len(vals) != len(phase):
                raise ValueError(f'row {r} col {c} {col}: {len(vals)} vs {len(phase)}')
            ax.plot(phase, vals, color=col, lw=1.6)
        if c == 2:
            ax.errorbar([errbar_phase[r]], [errbar_level[r]], yerr=[errbar_sigma[r]],
                        fmt='none', ecolor='k', elinewidth=1.5, capsize=0)
        ax.set_xlim(*xlims[r])
        ax.set_ylim(*ylims[r])
        ax.xaxis.set_major_locator(MultipleLocator(0.2))
        ax.xaxis.set_minor_locator(MultipleLocator(0.05))
        ax.yaxis.set_major_locator(MultipleLocator(ymajor[r]))
        ax.yaxis.set_minor_locator(MultipleLocator(0.05))
        ax.tick_params(which='both', direction='inout', top=True, right=True,
                       labelsize=13.5, width=1.1)
        ax.tick_params(which='major', length=7)
        ax.tick_params(which='minor', length=3.8)
        for sp in ax.spines.values():
            sp.set_linewidth(1.4)
        ax.set_xlabel('Pulse Phase', fontsize=16, labelpad=2)
        if c == 0:
            ax.set_ylabel('Intensity (a.u.)', fontsize=16, labelpad=3)
            ax.text(0.05, 0.935, pulsars[r], transform=ax.transAxes,
                    fontsize=13.5, va='center', ha='left')
            smallcaps_title(ax)
        else:
            ax.set_title(titles[c], fontsize=15.3, pad=4)

fig.savefig('out.png', dpi=100)
